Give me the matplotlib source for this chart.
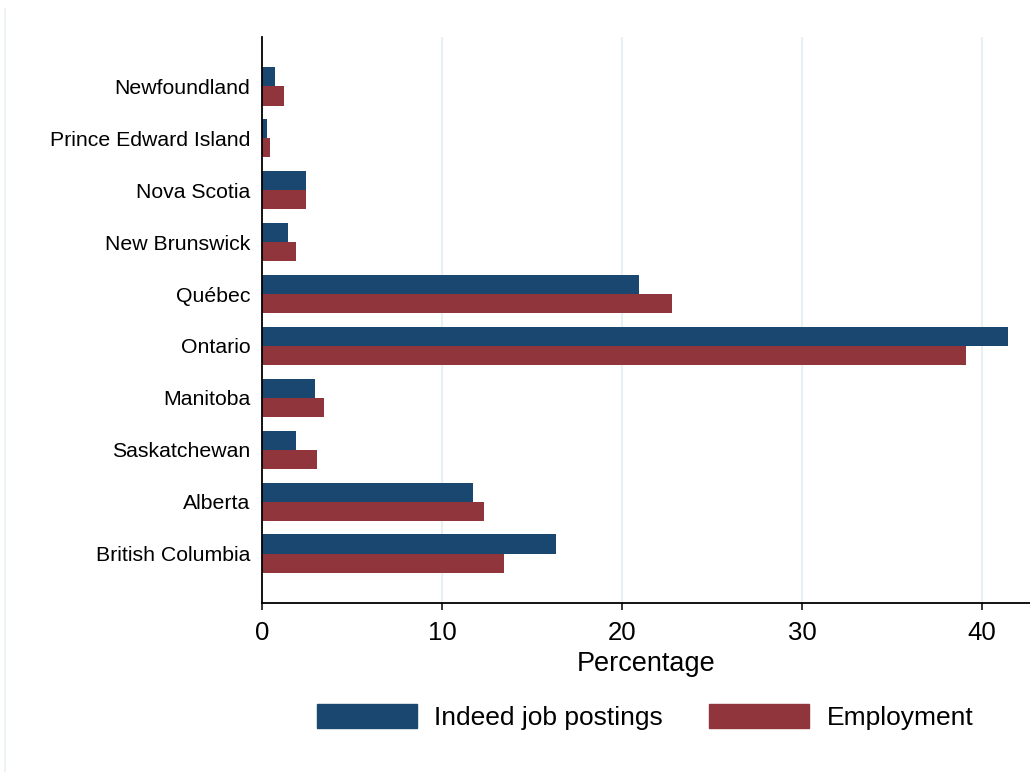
import matplotlib.pyplot as plt
import matplotlib.lines as mlines
import matplotlib.patches as mpatches
import numpy as np

plt.rcParams['font.family'] = ['Liberation Sans', 'DejaVu Sans']

provinces = ["Newfoundland", "Prince Edward Island", "Nova Scotia", "New Brunswick",
             "Québec", "Ontario", "Manitoba", "Saskatchewan", "Alberta", "British Columbia"]
indeed = [0.7, 0.26, 2.43, 1.44, 20.94, 41.44, 2.94, 1.89, 11.72, 16.33]
employment = [1.22, 0.44, 2.43, 1.89, 22.78, 39.1, 3.44, 3.06, 12.33, 13.44]
xticks = [0, 10, 20, 30, 40]

blue = "#1a476f"
red = "#90353b"

fig = plt.figure(figsize=(10.3, 7.72), dpi=100)
ax = fig.add_axes([262/1030, 1-603/772, 1-262/1030, (603-37)/772])

y = np.arange(len(provinces))
h = 0.37
ax.barh(y - h/2, indeed, height=h, color=blue, label="Indeed job postings", zorder=3)
ax.barh(y + h/2, employment, height=h, color=red, label="Employment", zorder=3)

ax.set_ylim(9.95, -0.95)
ax.set_xlim(0, 42.67)
ax.set_yticks(y)
ax.set_yticklabels(provinces, fontsize=15.3)
ax.set_xticks(xticks)
ax.set_xticklabels([str(t) for t in xticks], fontsize=18.5)
ax.tick_params(axis='y', length=0, pad=8.5)
ax.tick_params(axis='x', length=5, width=1.1, pad=8)
ax.set_xlabel("Percentage", fontsize=19.5, labelpad=4)

for s in ["top", "right"]:
    ax.spines[s].set_visible(False)
for s in ["left", "bottom"]:
    ax.spines[s].set_linewidth(1.3)
    ax.spines[s].set_zorder(4)

for t in xticks[1:]:
    ax.axvline(t, color="#e6eff1", linewidth=1.5, zorder=1)

handles = [mpatches.Patch(color=blue), mpatches.Patch(color=red)]
fig.legend(handles, ["Indeed job postings", "Employment"], loc="center",
           bbox_to_anchor=(645/1030, 1-717/772), ncol=2, frameon=False,
           fontsize=19, handlelength=3.8, handleheight=1.05,
           handletextpad=0.65, columnspacing=1.75)

# faint outer frame line on the left
fig.add_artist(mlines.Line2D([4.5/1030, 4.5/1030], [0, 1-9/772], color="#eaf0f3",
                             linewidth=1.2, transform=fig.transFigure))

fig.savefig("out.png", dpi=100)
